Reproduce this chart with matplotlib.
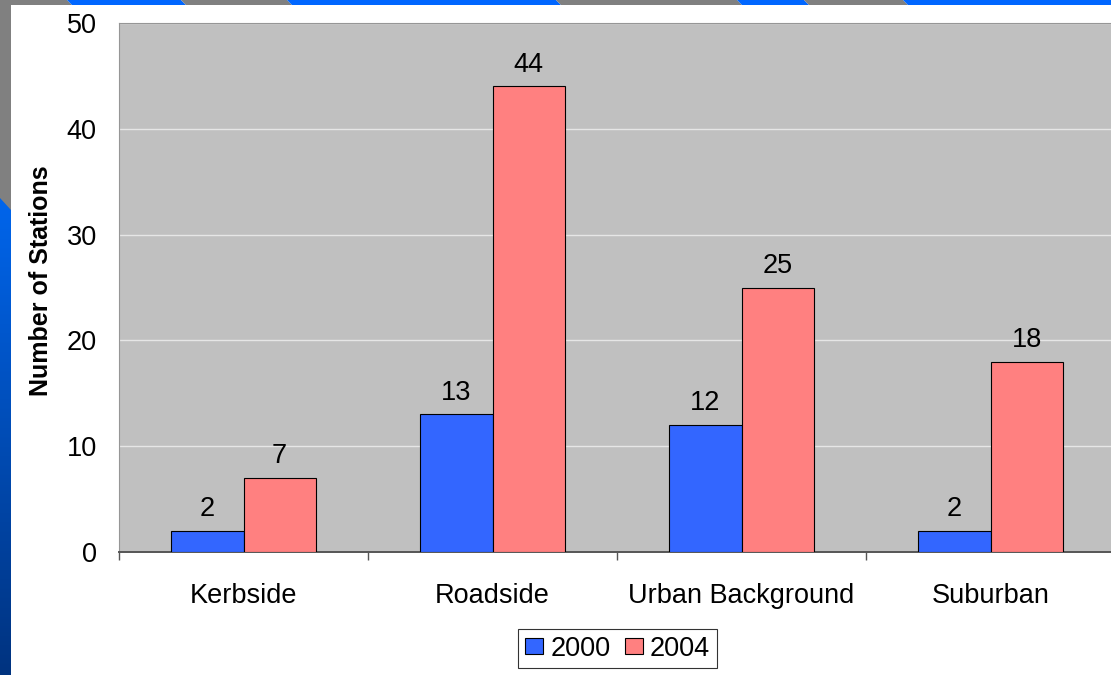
import numpy as np
import matplotlib
matplotlib.use("Agg")
import matplotlib.pyplot as plt
from matplotlib.patches import Polygon, Patch

plt.rcParams["font.family"] = ["Liberation Sans", "DejaVu Sans"]

categories = ["Kerbside", "Roadside", "Urban Background", "Suburban"]
years = ["2000", "2004"]
stations_2000 = [2, 13, 12, 2]
stations_2004 = [7, 44, 25, 18]

BLUE = "#3366FF"
RED = "#FF8080"
W, H = 1111, 675
FS = 19.5

fig = plt.figure(figsize=(W / 100, H / 100), dpi=100, facecolor="white")

# slide decoration: striped top band and gradient left bar (pixel coords)
bg = fig.add_axes([0, 0, 1, 1], zorder=-1)
bg.set_xlim(0, W)
bg.set_ylim(H, 0)
bg.axis("off")

stripe_edges = [0, 67, 181, 287, 556, 737, 804, 903, W + 10]
stripe_h = 5
slant = 5
for i in range(len(stripe_edges) - 1):
    x0, x1 = stripe_edges[i], stripe_edges[i + 1]
    col = "#808080" if i % 2 == 0 else "#0066FF"
    bg.add_patch(Polygon([(x0, 0), (x1, 0), (x1 + slant, stripe_h), (x0 + slant, stripe_h)],
                         closed=True, color=col, lw=0))

grad = np.linspace(0, 1, 200)[:, None, None]
top_col = np.array([0.0, 0.40, 0.93])
bot_col = np.array([0.0, 0.20, 0.50])
img = top_col * (1 - grad) + bot_col * grad
bg.imshow(img, extent=[0, 11, H, 190], origin="upper", aspect="auto", interpolation="bilinear")
bg.add_patch(Polygon([(0, 0), (11, 0), (11, 210), (0, 198)], closed=True, color="#808080", lw=0))
bg.set_xlim(0, W)
bg.set_ylim(H, 0)

# chart area
left, right, top, bottom = 119, 1115, 23, 552
ax = fig.add_axes([left / W, 1 - bottom / H, (right - left) / W, (bottom - top) / H])
ax.set_facecolor("#C0C0C0")

x = np.arange(len(categories))
bw = 0.29
b1 = ax.bar(x - bw / 2, stations_2000, bw, color=BLUE, edgecolor="black", linewidth=0.8, zorder=3)
b2 = ax.bar(x + bw / 2, stations_2004, bw, color=RED, edgecolor="black", linewidth=0.8, zorder=3)

for bars, vals in [(b1, stations_2000), (b2, stations_2004)]:
    for rect, v in zip(bars, vals):
        ax.annotate(str(v), (rect.get_x() + rect.get_width() / 2, v),
                    xytext=(0, 10.5), textcoords="offset points",
                    ha="center", va="baseline", fontsize=FS)

ax.set_xlim(-0.5, 3.5)
ax.set_ylim(0, 50)
ax.set_yticks(range(0, 51, 10))
ax.yaxis.grid(True, color="#E6E6E6", linewidth=1.0, zorder=0)
ax.set_axisbelow(True)
ax.tick_params(axis="y", length=0, pad=16, labelsize=FS)

ax.set_xticks(x)
ax.set_xticklabels(categories)
ax.set_xticks(np.arange(-0.5, 4.0, 1.0), minor=True)
ax.tick_params(axis="x", which="major", length=0, pad=22.5, labelsize=FS)
ax.tick_params(axis="x", which="minor", length=6, width=1.0, color="#555555")

ax.spines["right"].set_visible(False)
ax.spines["top"].set_color("#969696")
ax.spines["left"].set_color("#969696")
ax.spines["bottom"].set_color("#555555")
ax.spines["bottom"].set_linewidth(1.4)

fig.text(41 / W, 1 - 281 / H, "Number of Stations", rotation=90, fontsize=18,
         fontweight="bold", ha="center", va="center")

handles = [Patch(facecolor=BLUE, edgecolor="black", linewidth=0.8),
           Patch(facecolor=RED, edgecolor="black", linewidth=0.8)]
leg = fig.legend(handles, years, loc="center", bbox_to_anchor=(617.5 / W, 1 - 648.5 / H),
                 ncol=2, fontsize=FS, frameon=True, fancybox=False, shadow=False,
                 handlelength=0.67, handleheight=0.55, handletextpad=0.26,
                 columnspacing=0.52, borderpad=0.25, borderaxespad=0)
leg.get_frame().set_edgecolor("black")
leg.get_frame().set_linewidth(0.8)

fig.savefig("out.png", dpi=100, facecolor="white")
